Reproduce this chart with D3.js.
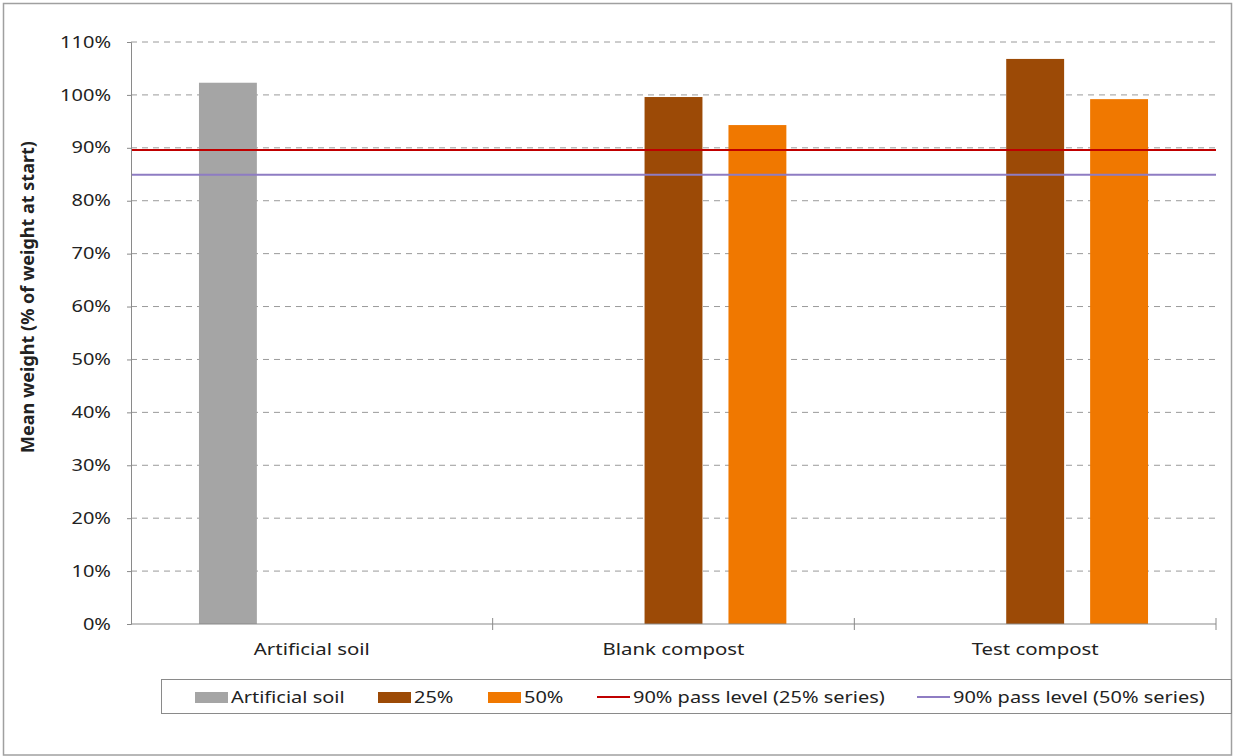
<!DOCTYPE html>
<html><head><meta charset="utf-8">
<script src="https://cdn.jsdelivr.net/npm/d3@7"></script>
<style>
body{margin:0;background:#fff;}
text{font-family:"Noto Sans","Open Sans",sans-serif;fill:#222;}
</style></head>
<body><svg id="c" width="1236" height="756"></svg>
<script>
const categories = ["Artificial soil", "Blank compost", "Test compost"];
const seriesNames = ["Artificial soil", "25%", "50%"];
const artificialSoil = [102.3, null, null];
const pct25 = [null, 99.6, 106.8];
const pct50 = [null, 94.3, 99.2];
const passLevel25 = 89.6;
const passLevel50 = 84.9;
const yTicks = [0,10,20,30,40,50,60,70,80,90,100,110];
const colors = {"Artificial soil":"#a5a5a5","25%":"#9c4a06","50%":"#f07800"};
const lineColors = ["#c00000","#8e7cc3"];
const legendLabels = ["Artificial soil","25%","50%","90% pass level (25% series)","90% pass level (50% series)"];

const svg = d3.select("#c");
const m = {l:131, r:1216, t:42, b:624};
const SX = 1.2; // horizontal text stretch
const SXL = 1.175;

svg.append("rect").attr("x",3.5).attr("y",3.5).attr("width",1228).attr("height",751.5)
  .attr("fill","#fff").attr("stroke","#a0a0a0").attr("stroke-width",1.5);

const x0 = d3.scaleBand().domain(categories).range([m.l,m.r]).padding(0);
const x1 = d3.scaleBand().domain(seriesNames).range([0,x0.bandwidth()]).paddingInner(0.31).paddingOuter(0.81);
const y = d3.scaleLinear().domain([0,110]).range([m.b,m.t]);

svg.append("g").selectAll("line").data(yTicks.filter(d=>d>0)).join("line")
  .attr("x1",m.l).attr("x2",m.r).attr("y1",d=>y(d)).attr("y2",d=>y(d))
  .attr("stroke","#9a9a9a").attr("stroke-width",1).attr("stroke-dasharray","6,5");

const data = [];
categories.forEach((c,i)=>{
  [[seriesNames[0],artificialSoil],[seriesNames[1],pct25],[seriesNames[2],pct50]].forEach(([s,arr])=>{
    if(arr[i]!=null) data.push({c,s,v:arr[i]});
  });
});
svg.append("g").selectAll("rect").data(data).join("rect")
  .attr("x",d=>x0(d.c)+x1(d.s)).attr("width",x1.bandwidth())
  .attr("y",d=>y(d.v)).attr("height",d=>y(0)-y(d.v)).attr("fill",d=>colors[d.s]);

[passLevel25,passLevel50].forEach((v,i)=>{
  svg.append("line").attr("x1",m.l).attr("x2",m.r).attr("y1",y(v)).attr("y2",y(v))
    .attr("stroke",lineColors[i]).attr("stroke-width",2);
});

const yAxis = svg.append("g").attr("transform",`translate(${m.l},0)`)
  .call(d3.axisLeft(y).tickValues(yTicks).tickFormat(d=>d+"%").tickSize(4).tickPadding(14));
yAxis.select(".domain").attr("stroke","#8a8a8a");
yAxis.selectAll(".tick line").attr("stroke","#8a8a8a");
yAxis.selectAll("text").style("font-size","16px").attr("fill","#222")
  .attr("x",-20/1.25).attr("transform","scale(1.25,1)");

const xa = svg.append("g");
xa.append("line").attr("x1",m.l).attr("x2",m.r).attr("y1",m.b).attr("y2",m.b).attr("stroke","#8a8a8a").attr("stroke-width",1.2);
const bounds = categories.map(c=>x0(c)).concat([x0(categories[2])+x0.bandwidth()]).slice(1);
xa.selectAll("line.tk").data(bounds).join("line").attr("class","tk")
  .attr("x1",d=>d).attr("x2",d=>d).attr("y1",m.b-6).attr("y2",m.b+6).attr("stroke","#8a8a8a");
xa.selectAll("text").data(categories).join("text")
  .attr("transform",d=>`translate(${x0(d)+x0.bandwidth()/2},655) scale(${SX},1)`).attr("text-anchor","middle")
  .style("font-size","17px").text(d=>d);

svg.append("text").attr("transform","translate(34,297) rotate(-90)").attr("text-anchor","middle")
  .style("font-size","18px").style("font-weight","bold").text("Mean weight (% of weight at start)");

svg.append("rect").attr("x",161.5).attr("y",679.5).attr("width",1070).attr("height",34)
  .attr("fill","none").attr("stroke","#8a8a8a").attr("stroke-width",1);
const lx = [195,378,488,597,917];
legendLabels.forEach((lab,i)=>{
  const g = svg.append("g").attr("transform",`translate(${lx[i]},697)`);
  if(i<3) g.append("rect").attr("x",0).attr("y",-5).attr("width",33).attr("height",11).attr("fill",colors[seriesNames[i]]);
  else g.append("line").attr("x1",0).attr("x2",33).attr("y1",0).attr("y2",0).attr("stroke",lineColors[i-3]).attr("stroke-width",2);
  g.append("text").attr("transform",`translate(36,6) scale(${SXL},1)`).style("font-size","17px").text(lab);
});
</script></body></html>
